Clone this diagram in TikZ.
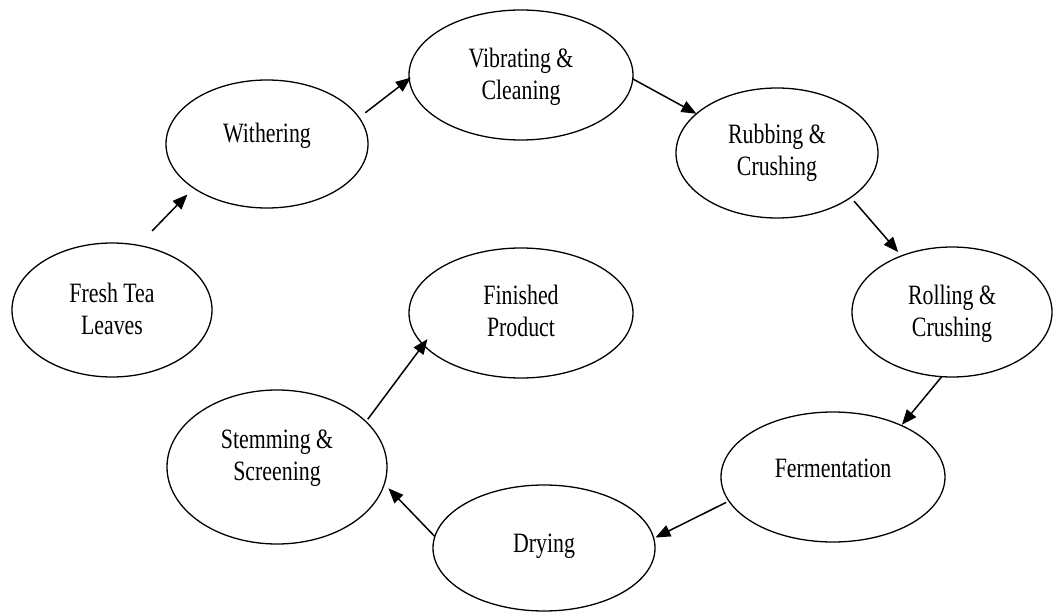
\documentclass[tikz,border=0pt]{standalone}
\usepackage{fontspec}
\setmainfont{Liberation Serif}[FakeStretch=0.78]
\usetikzlibrary{arrows.meta,shapes.geometric}
\newcommand\onel[2]{\raisebox{#1}[0pt][0pt]{#2}}
\newcommand\twol[3]{\raisebox{#1}[0pt][0pt]{\begin{tabular}[b]{@{}c@{}}#2\\#3\end{tabular}}}
\begin{document}
\begin{tikzpicture}[x=1pt,y=-1pt,
  stage/.style={ellipse, draw=black, line width=1.3pt, inner sep=0pt, outer sep=0pt,
    font=\fontsize{28}{32}\selectfont},
  flow/.style={line width=1.5pt, -{Triangle[length=15pt,width=12pt]}}]
\useasboundingbox[fill=white] (0,0) rectangle (1053,615);
\node[stage, minimum width=200pt, minimum height=134pt] (fresh) at (112,310) {\twol{-24pt}{Fresh Tea}{Leaves}};
\node[stage, minimum width=202pt, minimum height=128pt] (wither) at (267,144) {\onel{1pt}{Withering}};
\node[stage, minimum width=224pt, minimum height=130pt] (vib) at (521,75) {\twol{-25pt}{Vibrating \&}{Cleaning}};
\node[stage, minimum width=202pt, minimum height=130pt] (rub) at (777,153) {\twol{-23pt}{Rubbing \&}{Crushing}};
\node[stage, minimum width=200pt, minimum height=130pt] (roll) at (952,312) {\twol{-24pt}{Rolling \&}{Crushing}};
\node[stage, minimum width=224pt, minimum height=130pt] (ferm) at (833,477) {\onel{0pt}{Fermentation}};
\node[stage, minimum width=222pt, minimum height=126pt] (dry) at (544,548) {\onel{-4pt}{Drying}};
\node[stage, minimum width=220pt, minimum height=154pt] (stem) at (277,467) {\twol{-13pt}{Stemming \&}{Screening}};
\node[stage, minimum width=224pt, minimum height=130pt] (fin) at (521,313) {\twol{-23pt}{Finished}{Product}};
\draw[flow, shorten <=20pt, shorten >=9pt] (fresh.68) -- (wither.211.5);
\draw[flow, shorten <=8pt, shorten >=-2pt] (wither.16) -- (vib.182.6);
\draw[flow] (vib.-2.6) -- (rub.154.6);
\draw[flow, shorten <=5pt, shorten >=5pt] (rub.-31) -- (roll.132);
\draw[flow, shorten >=1pt] (roll.261) -- (ferm.37);
\draw[flow, shorten <=3pt, shorten >=2pt] (ferm.193.7) -- (dry.5.6);
\draw[flow, shorten >=6pt] (dry.174.3) -- (stem.-9);
\draw[flow, shorten <=3pt, shorten >=-7pt] (stem.27.3) -- (fin.198.6);
\end{tikzpicture}
\end{document}
